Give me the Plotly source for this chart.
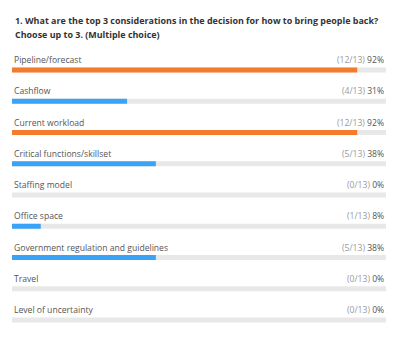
import plotly.graph_objects as go

title_line1 = "1. What are the top 3 considerations in the decision for how to bring people back?"
title_line2 = "Choose up to 3. (Multiple choice)"
categories = ["Pipeline/forecast", "Cashflow", "Current workload", "Critical functions/skillset",
              "Staffing model", "Office space", "Government regulation and guidelines",
              "Travel", "Level of uncertainty"]
counts = [12, 4, 12, 5, 0, 1, 5, 0, 0]
total = 13
percent_labels = ["92%", "31%", "92%", "38%", "0%", "8%", "38%", "0%", "0%"]

fractions = [c / total for c in counts]
top = max(counts)
colors = ["#F47A2E" if c == top else "#3AA3F5" for c in counts]

W, H = 400, 337
mt, mb, ml, mr = 50, 10, 12, 14
unit = 250 / 8  # px per category
r_top = -20 / unit
r_bot = 8 + 7 / unit
bar_w = 5 / unit

fig = go.Figure()
fig.add_trace(go.Bar(y=categories, x=[1] * len(categories), orientation="h",
                     marker=dict(color="#E8E8E8", line=dict(width=0)),
                     width=bar_w, hoverinfo="skip", showlegend=False))
fig.add_trace(go.Bar(y=categories, x=fractions, orientation="h",
                     marker=dict(color=colors, line=dict(width=0)),
                     width=bar_w, showlegend=False))

lab_font = dict(family="Open Sans", size=8.6, color="#555555")
annotations = []
for cat, c, p in zip(categories, counts, percent_labels):
    annotations.append(dict(x=0, y=cat, xref="x", yref="y", text=cat, showarrow=False,
                            xanchor="left", yanchor="middle", yshift=10, xshift=0,
                            font=lab_font))
    annotations.append(dict(x=1, y=cat, xref="x", yref="y",
                            text=f"<span style='color:#9a9a9a'>({c}/{total})</span> {p}",
                            showarrow=False, xanchor="right", yanchor="middle", yshift=10,
                            font=lab_font))
title_font = dict(family="Open Sans", size=8.95, color="#333333")
annotations.append(dict(x=0, y=1, xref="paper", yref="paper", text=f"<b>{title_line1}</b>",
                        showarrow=False, xanchor="left", yanchor="middle", yshift=50 - 20, xshift=1,
                        font=title_font))
annotations.append(dict(x=0, y=1, xref="paper", yref="paper", text=f"<b>{title_line2}</b>",
                        showarrow=False, xanchor="left", yanchor="middle", yshift=50 - 34, xshift=1,
                        font=title_font))

fig.update_layout(
    width=W, height=H, barmode="overlay",
    margin=dict(t=mt, b=mb, l=ml, r=mr, pad=0),
    paper_bgcolor="white", plot_bgcolor="white",
    xaxis=dict(range=[0, 1], visible=False, fixedrange=True),
    yaxis=dict(range=[r_bot, r_top], visible=False, type="category",
               categoryorder="array", categoryarray=categories, fixedrange=True),
    annotations=annotations,
)
fig.write_html("out.html", config={"displayModeBar": False})
